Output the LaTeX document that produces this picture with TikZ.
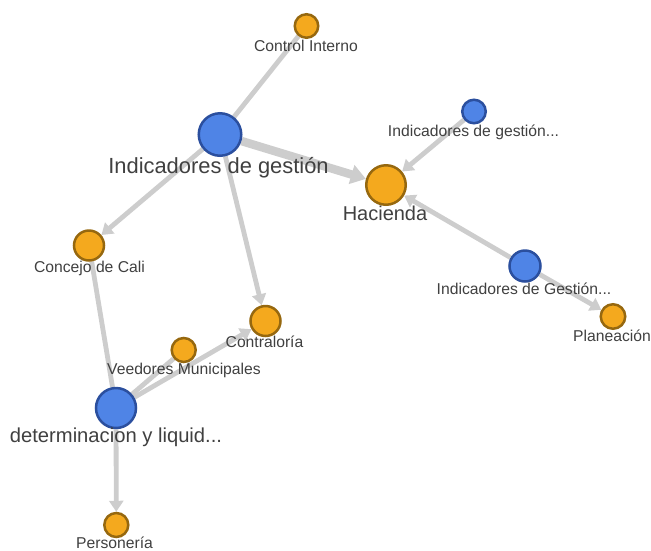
\documentclass[tikz,border=0pt]{standalone}
\usepackage{fontspec}
\setmainfont{Liberation Sans}
\usetikzlibrary{arrows.meta,backgrounds}
\definecolor{orfill}{HTML}{F4A91E}
\definecolor{ordraw}{HTML}{96680F}
\definecolor{blfill}{HTML}{4F84E6}
\definecolor{bldraw}{HTML}{2B4F9E}
\definecolor{edgecol}{HTML}{CDCDCD}
\definecolor{labcol}{HTML}{404040}
\tikzset{
  orn/.style={circle,fill=orfill,draw=ordraw,line width=2.5pt,inner sep=0pt,minimum size=#1},
  bln/.style={circle,fill=blfill,draw=bldraw,line width=2.5pt,inner sep=0pt,minimum size=#1},
  smlab/.style={anchor=base,inner sep=0pt,text=labcol,font=\fontsize{15.7}{18}\selectfont},
  biglab/.style={anchor=base,inner sep=0pt,text=labcol,font=\fontsize{#1}{25}\selectfont},
  edge/.style={draw=edgecol,line width=4.8pt},
  arr/.style={edge,-{Triangle[length=11pt,width=14pt]}},
  bigarr/.style={draw=edgecol,line width=8.5pt,-{Triangle[length=15pt,width=19pt]}}
}
\begin{document}
\begin{tikzpicture}[x=1pt,y=-1pt]
\useasboundingbox (0,0) rectangle (651,550);
% nodes
\node[orn=23.5pt] (ci) at (306.5,26) {};
\node[bln=42.5pt] (ig) at (220,134.5) {};
\node[orn=39.5pt] (ha) at (386,185) {};
\node[bln=23.5pt] (ig2) at (474,111.5) {};
\node[bln=31pt] (ig3) at (525,266) {};
\node[orn=24.5pt] (pl) at (613,316.5) {};
\node[orn=30pt] (cc) at (89,245.5) {};
\node[orn=30pt] (co) at (265.5,321) {};
\node[orn=24pt] (ve) at (183.7,350) {};
\node[bln=40pt] (dl) at (116,408) {};
\node[orn=24pt] (pe) at (116.3,525) {};
% labels
\node[smlab] (lci) at (306,51) {Control Interno};
\node[biglab=21.9] (lig) at (218.5,173) {Indicadores de gestión};
\node[biglab=20] (lha) at (385,220) {Hacienda};
\node[smlab] (lig2) at (473.5,136) {Indicadores de gestión...};
\node[smlab] (lig3) at (524,294) {Indicadores de Gestión...};
\node[smlab] (lpl) at (612,341) {Planeación};
\node[smlab] (lcc) at (89.5,272) {Concejo de Cali};
\node[smlab] (lco) at (264.5,347) {Contraloría};
\node[smlab] (lve) at (184,374) {Veedores Municipales};
\node[biglab=20.2] (ldl) at (116,442) {determinacion y liquid...};
\node[smlab] (lpe) at (114.5,548) {Personería};
% edges
\begin{pgfonlayer}{background}
\draw[edge] (ig) -- (ci);
\draw[bigarr] (ig) -- (ha);
\draw[arr] (ig) -- (cc);
\draw[arr] (ig) -- (co);
\draw[arr] (ig2) -- (ha);
\draw[arr] (ig3) -- (ha);
\draw[arr] (ig3) -- (pl);
\draw[edge] (cc) -- (dl);
\draw[arr] (dl) -- (co);
\draw[edge] (dl) -- (ve);
\draw[arr] (dl) -- (pe);
\end{pgfonlayer}
\end{tikzpicture}
\end{document}
